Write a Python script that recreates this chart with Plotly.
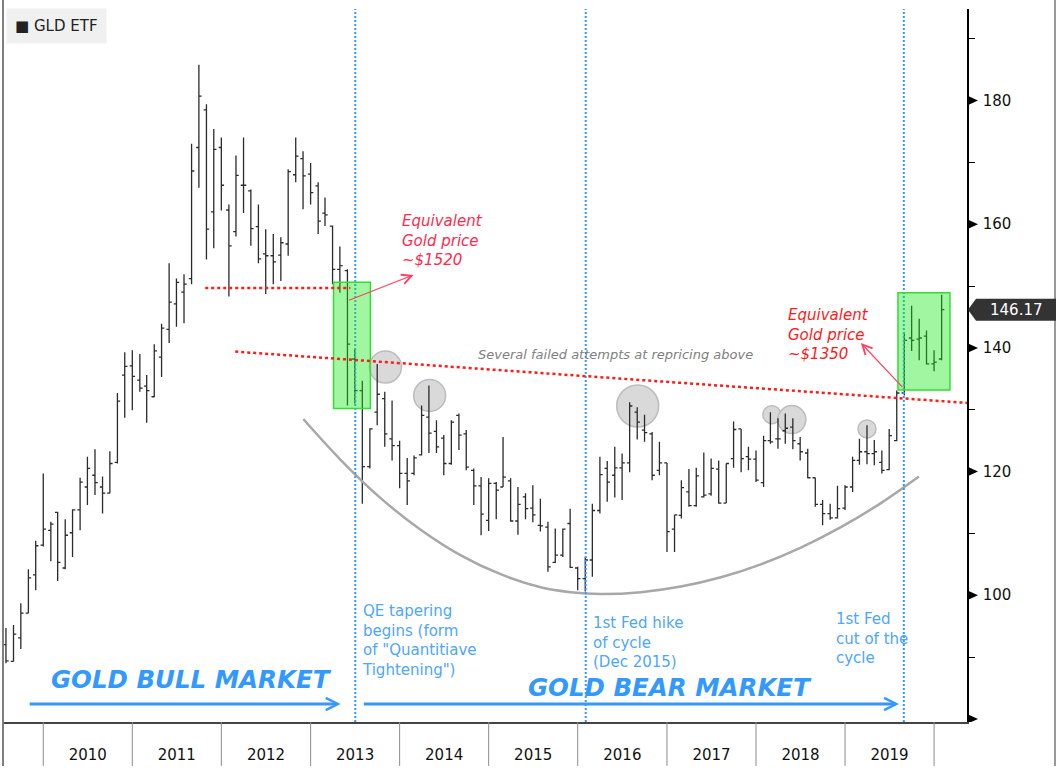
import pandas as pd
import plotly.graph_objs as go

# GLD ETF, monthly bars starting Aug 2009
first_month = '2009-08-01'
gld_open = [92.0, 89.3, 93.1, 97.1, 103.3, 108.1, 110.5, 113.4, 104.4, 110.1,
            113.8, 117.5, 119.4, 117.5, 116.5, 121.5, 135.6, 137.1, 134.8, 133.8,
            132.1, 138.5, 143.0, 147.1, 149.0, 151.2, 172.4, 178.5, 162.0, 172.4,
            162.3, 158.8, 166.3, 165.4, 159.6, 155.2, 154.9, 155.0, 156.8, 168.0,
            170.6, 168.1, 166.2, 161.8, 159.7, 152.7, 152.5, 138.2, 133.1, 120.8,
            129.6, 131.8, 125.3, 124.2, 119.7, 119.7, 122.7, 128.8, 126.5, 125.4,
            121.3, 129.1, 126.1, 120.2, 117.7, 112.1, 118.1, 117.5, 118.5, 112.0,
            115.9, 114.1, 111.3, 111.0, 105.3, 106.5, 111.6, 104.4, 102.7, 105.7,
            113.7, 120.5, 119.4, 120.6, 121.4, 129.6, 126.7, 126.1, 120.2, 121.4,
            110.7, 112.9, 116.7, 114.5, 115.9, 116.4, 120.4, 114.9, 122.1, 126.9,
            122.4, 122.0, 118.2, 125.0, 125.3, 126.6, 127.2, 124.5, 123.0, 119.0,
            114.7, 113.2, 112.5, 114.1, 117.5, 121.8, 123.2, 122.9, 121.5, 120.3,
            125.0, 132.7, 141.6, 141.4, 141.9, 137.4, 138.2]
gld_high = [94.7, 95.2, 98.7, 104.2, 108.8, 119.7, 111.9, 113.5, 112.3, 113.9,
            119.0, 122.4, 123.6, 119.2, 123.3, 132.7, 139.3, 139.6, 139.0, 135.6,
            140.6, 143.9, 153.7, 151.2, 151.9, 173.0, 185.8, 179.4, 175.4, 174.0,
            163.2, 171.1, 174.0, 165.6, 163.2, 159.2, 158.4, 157.9, 168.9, 174.0,
            171.8, 169.9, 166.8, 164.3, 159.8, 156.4, 152.7, 139.8, 134.7, 127.0,
            137.4, 132.9, 131.5, 125.0, 122.2, 122.6, 130.7, 133.9, 128.3, 125.9,
            128.3, 129.4, 126.7, 120.5, 119.1, 118.9, 118.3, 125.6, 118.9, 117.5,
            116.5, 117.8, 115.6, 111.9, 110.8, 110.8, 114.0, 104.6, 106.2, 114.8,
            122.4, 121.7, 124.0, 122.9, 131.2, 130.4, 129.2, 126.4, 124.8, 121.4,
            113.0, 118.6, 120.4, 120.6, 123.1, 122.1, 121.8, 121.3, 128.1, 126.9,
            124.0, 123.4, 125.8, 129.6, 128.6, 129.4, 128.6, 125.6, 123.7, 119.0,
            115.4, 114.8, 117.7, 117.8, 122.4, 125.3, 127.5, 125.1, 123.4, 126.9,
            133.1, 142.5, 146.8, 144.7, 142.8, 139.6, 148.6]
gld_low = [89.0, 89.3, 91.3, 97.1, 100.8, 107.9, 105.5, 102.3, 104.2, 106.2,
           110.5, 114.6, 116.2, 113.2, 116.5, 121.3, 128.7, 129.9, 132.9, 127.9,
           132.0, 135.3, 140.8, 143.4, 144.0, 150.3, 165.9, 154.3, 156.1, 162.2,
           148.3, 158.0, 161.8, 156.5, 153.7, 148.7, 150.3, 150.8, 154.9, 166.8,
           162.4, 163.2, 158.4, 159.7, 150.3, 148.9, 130.7, 131.0, 114.8, 120.5,
           127.5, 124.0, 121.8, 117.3, 114.6, 119.4, 122.6, 123.0, 123.0, 119.4,
           121.1, 123.5, 120.2, 114.6, 109.7, 110.4, 112.3, 117.5, 111.9, 109.8,
           112.3, 111.8, 110.3, 103.8, 105.2, 106.2, 104.4, 100.8, 100.6, 103.0,
           113.2, 115.1, 115.8, 115.4, 119.9, 125.2, 124.8, 118.6, 119.4, 107.0,
           107.0, 112.4, 114.3, 114.3, 115.8, 116.1, 114.8, 114.9, 120.6, 119.9,
           120.2, 118.3, 117.5, 124.5, 123.7, 124.5, 123.6, 121.8, 118.9, 114.3,
           111.3, 112.2, 112.4, 113.8, 116.7, 121.1, 121.2, 121.0, 119.7, 120.2,
           124.9, 132.3, 139.5, 138.0, 137.3, 136.2, 138.0]
gld_close = [89.4, 93.7, 97.1, 102.8, 108.0, 110.7, 111.5, 105.3, 109.7, 113.8,
             118.3, 120.5, 118.2, 116.5, 121.3, 131.4, 137.0, 135.4, 133.5, 133.1,
             139.5, 143.2, 147.4, 150.6, 150.3, 168.6, 180.7, 159.2, 172.1, 166.3,
             156.5, 167.9, 166.3, 159.3, 154.4, 154.9, 153.9, 157.0, 168.5, 171.0,
             167.8, 165.1, 160.5, 161.5, 152.7, 153.3, 140.6, 133.1, 120.8, 126.9,
             132.5, 126.1, 124.2, 119.7, 118.5, 122.2, 129.1, 126.2, 124.0, 121.3,
             128.0, 125.9, 120.7, 117.7, 113.1, 118.1, 117.0, 119.1, 112.0, 114.7,
             114.0, 113.0, 111.2, 104.6, 106.5, 110.7, 104.5, 102.7, 105.7, 113.7,
             119.5, 118.3, 120.6, 121.4, 130.6, 128.0, 126.3, 119.4, 121.4, 110.3,
             113.0, 117.4, 114.5, 119.3, 116.2, 120.5, 114.9, 121.3, 126.8, 122.1,
             122.0, 118.6, 125.0, 124.8, 125.3, 127.0, 125.0, 123.2, 119.0, 114.7,
             113.2, 112.5, 114.0, 117.5, 121.8, 123.2, 122.9, 123.2, 120.2, 125.8,
             132.7, 141.2, 141.2, 141.6, 137.4, 137.7, 146.17]

years = list(range(2010, 2021))
price_labels = [100, 120, 140, 160, 180]
price_arrows = [80, 100, 120, 140, 160, 180]
price_minor = [90, 110, 130, 150, 170, 190]

event_dates = ['2013-07-03', '2016-02-03', '2019-08-30']
event_labels = ['QE tapering<br>begins (form<br>of "Quantitiave<br>Tightening")',
                '1st Fed hike<br>of cycle<br>(Dec 2015)',
                '1st Fed<br>cut of the<br>cycle']

# failed repricing attempts (circled)
attempt_dates = ['2013-11-04', '2014-05-04', '2016-09-03', '2018-03-07', '2018-05-28', '2019-04-01']
attempt_prices = [136.9, 132.3, 130.6, 129.2, 128.4, 126.9]
attempt_radius = [16, 16, 21, 9, 14, 9]

# hand drawn "bowl"
bowl_dates = ['2012-12-02', '2013-05-04', '2013-10-15', '2014-03-28', '2014-09-07', '2015-02-19',
              '2015-08-02', '2015-12-03', '2016-04-04', '2016-09-16', '2017-02-27', '2017-08-10',
              '2018-01-21', '2018-07-04', '2018-12-15', '2019-05-28', '2019-10-31']
bowl_levels = [128.5, 121.9, 115.7, 110.6, 106.5, 103.4, 101.3, 100.5, 100.2, 100.5, 101.4, 102.9,
               105.0, 107.7, 111.0, 114.9, 119.2]

BLUE = '#3399ff'
RED = '#ff2a4d'
PW, PH = 963, 715  # plot area in px


def plot_the_graph():
    x = pd.date_range(first_month, periods=len(gld_close), freq='MS')
    fig = go.Figure()
    fig.add_trace(go.Scatter(x=bowl_dates, y=bowl_levels, mode='lines', hoverinfo='skip',
                             line=dict(color='#a8a8a8', width=2.5, shape='spline', smoothing=1.0)))
    bar_line = dict(line=dict(color='#2b2b2b', width=1.3))
    fig.add_trace(go.Ohlc(x=x, open=gld_open, high=gld_high, low=gld_low, close=gld_close,
                          increasing=bar_line, decreasing=bar_line, tickwidth=0.4,
                          hoverinfo='skip', name='GLD ETF'))

    shapes = []
    for d, p, r in zip(attempt_dates, attempt_prices, attempt_radius):
        shapes.append(dict(type='circle', xref='x', yref='y', xsizemode='pixel', ysizemode='pixel',
                           xanchor=d, yanchor=p, x0=-r, x1=r, y0=-r, y1=r, layer='below',
                           fillcolor='#d9d9d9', line=dict(color='#bcbcbc', width=1.5)))
    for d in event_dates:
        shapes.append(dict(type='line', xref='x', yref='paper', x0=d, x1=d, y0=0, y1=1,
                           line=dict(color=BLUE, width=2, dash='2px,2px')))
    # green boxes
    shapes.append(dict(type='rect', xref='x', yref='y', x0='2013-04-05', x1='2013-09-03', y0=130.2, y1=150.6,
                       fillcolor='rgba(20,235,20,0.4)', line=dict(color='#33dd33', width=1.5)))
    shapes.append(dict(type='rect', xref='x', yref='y', x0='2019-08-06', x1='2020-03-06', y0=133.2, y1=148.9,
                       fillcolor='rgba(20,235,20,0.4)', line=dict(color='#33dd33', width=1.5)))
    # red levels
    shapes.append(dict(type='line', xref='x', yref='y', x0='2011-10-27', x1='2013-06-13', y0=149.7, y1=149.7,
                       line=dict(color='#ff1a1a', width=2.5, dash='dot')))
    shapes.append(dict(type='line', xref='x', yref='y', x0='2012-02-27', x1='2020-05-15', y0=139.4, y1=131.1,
                       line=dict(color='#ff1a1a', width=2.5, dash='dot')))
    # year separators under the axis
    for yr in years:
        shapes.append(dict(type='line', xref='x', yref='paper', x0=f'{yr}-01-01', x1=f'{yr}-01-01',
                           y0=-44 / PH, y1=0, line=dict(color='#8c8c8c', width=1)))
    # frame
    shapes.append(dict(type='line', xref='paper', yref='paper', x0=-1 / PW, x1=-1 / PW, y0=-44 / PH,
                       y1=1 + 9 / PH, line=dict(color='#555', width=1.5)))
    shapes.append(dict(type='line', xref='paper', yref='paper', x0=1051 / PW, x1=1051 / PW, y0=-44 / PH,
                       y1=1 + 9 / PH, line=dict(color='#999', width=2)))
    # arrow shaped price ticks
    for v in price_arrows:
        shapes.append(dict(type='path', xref='paper', yref='y', xsizemode='pixel', ysizemode='pixel',
                           xanchor=1, yanchor=v, path='M 0,-5 L 11,0 L 0,5 Z',
                           fillcolor='black', line=dict(width=0)))
    last = gld_close[-1]
    shapes.append(dict(type='path', xref='paper', yref='y', xsizemode='pixel', ysizemode='pixel',
                       xanchor=1, yanchor=last, path='M 1,0 L 9,-11 L 89,-11 L 89,11 L 9,11 Z',
                       fillcolor='#333333', line=dict(width=0)))

    ann = []
    ann.append(dict(xref='paper', yref='paper', x=0, y=1, xanchor='left', yanchor='top', xshift=2, yshift=1,
                    text='■ GLD ETF', showarrow=False, bgcolor='#f0f0f0', borderpad=8,
                    font=dict(size=15, color='#222')))
    ann.append(dict(xref='paper', yref='y', x=1, y=last, xanchor='center', xshift=49, showarrow=False,
                    text=f'{last:.2f}', font=dict(size=15, color='white')))
    for d, t, dx, top in zip(event_dates, event_labels, [5, 5, -70], [99.2, 97.3, 97.9]):
        ann.append(dict(x=d, y=top, xanchor='left', yanchor='top', xshift=dx, align='left',
                        text=t, showarrow=False, font=dict(size=15, color='#4da6ff')))
    ann.append(dict(x='2014-01-01', y=162.3, xanchor='left', yanchor='top', align='left', showarrow=False,
                    text='<i>Equivalent<br>Gold price<br>~$1520</i>', font=dict(size=15, color=RED)))
    ann.append(dict(x='2018-05-04', y=147.1, xanchor='left', yanchor='top', align='left', showarrow=False,
                    text='<i>Equivalent<br>Gold price<br>~$1350</i>', font=dict(size=15, color='#ff1a1a')))
    ann.append(dict(x='2016-06-05', y=139.0, showarrow=False, text='<i>Several failed attempts at repricing above</i>',
                    font=dict(size=13, color='#808080')))
    ann.append(dict(x='2011-08-30', y=86.45, showarrow=False, text='<b><i>GOLD BULL MARKET</i></b>',
                    font=dict(size=24.5, color=BLUE)))
    ann.append(dict(x='2017-01-13', y=85.0, showarrow=False, text='<b><i>GOLD BEAR MARKET</i></b>',
                    font=dict(size=24.5, color=BLUE)))
    arrows = [('2013-05-04', 82.4, '2009-10-31', 82.4, BLUE, 3, 0.8),
              ('2019-08-10', 82.4, '2013-08-01', 82.4, BLUE, 3, 0.8),
              ('2014-02-27', 151.8, '2013-06-01', 147.6, '#ff4060', 1.2, 1.6),
              ('2019-03-07', 140.8, '2019-08-30', 133.4, '#ff4060', 1.2, 1.6)]
    for hx, hy, tx, ty, c, w, s in arrows:
        ann.append(dict(x=hx, y=hy, ax=tx, ay=ty, axref='x', ayref='y', text='', showarrow=True,
                        arrowhead=5, arrowcolor=c, arrowwidth=w, arrowsize=s, standoff=0))

    fig.update_layout(width=1058, height=768, margin=dict(l=4, r=91, t=9, b=44),
                      paper_bgcolor='white', plot_bgcolor='white', showlegend=False,
                      font=dict(family='DejaVu Sans', size=15, color='#111'),
                      shapes=shapes, annotations=ann)
    fig.update_xaxes(type='date', range=['2009-07-24', '2020-05-15'], rangeslider=dict(visible=False),
                     dtick='M12', tick0='2010-01-01', tickformat='%Y', ticklabelmode='period',
                     ticks='', ticklabelstandoff=18, showgrid=False, zeroline=False,
                     showline=True, linecolor='#444', linewidth=1.5)
    fig.update_yaxes(side='right', range=[79.5, 194.8], tickvals=price_labels, ticks='outside', ticklen=11,
                     tickcolor='rgba(0,0,0,0)', showgrid=False, zeroline=False,
                     showline=True, linecolor='black', linewidth=1.5,
                     minor=dict(tickvals=price_minor, ticks='outside', ticklen=6, tickcolor='black'))
    return fig


fig = plot_the_graph()
# page body has a default 8px margin; drop it so the chart sits at the window corner
fig.write_html("out.html", config={'displayModeBar': False},
               post_script="document.body.style.margin='0';")
